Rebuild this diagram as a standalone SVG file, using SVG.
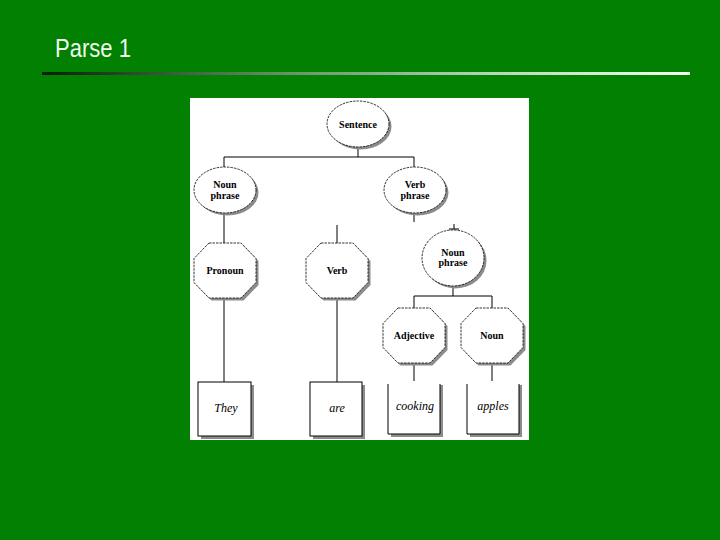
<svg xmlns="http://www.w3.org/2000/svg" width="720" height="540" viewBox="0 0 720 540">
<defs>
<linearGradient id="rule" x1="0" y1="0" x2="1" y2="0">
<stop offset="0" stop-color="#0a1e0a"/>
<stop offset="0.35" stop-color="#5f8c5f"/>
<stop offset="0.7" stop-color="#b8d8b8"/>
<stop offset="1" stop-color="#f2fff2"/>
</linearGradient>
<polygon id="oct" points="-16,-27.5 16,-27.5 31,-12 31,12 16,27.5 -16,27.5 -31,12 -31,-12"/>
</defs>
<style>
.node-shape{fill:#ffffff;stroke:#000000;stroke-width:0.8;stroke-dasharray:2.5 1}
.shadow{fill:#8c8c8c;stroke:none}
.lbl{font-family:"Liberation Serif","Times New Roman",serif;font-weight:bold;font-size:10px;fill:#000;text-anchor:middle}
.word{font-family:"Liberation Serif","Times New Roman",serif;font-style:italic;font-size:12px;fill:#000;text-anchor:middle}
.conn{stroke:#000;stroke-width:1;fill:none}
.box{fill:#fff;stroke:none}
.boxline{stroke:#000;stroke-width:1;fill:none}
</style>
<rect x="0" y="0" width="720" height="540" fill="#018001"/>
<text x="55" y="56.5" font-family="'Liberation Sans',Arial,sans-serif" font-size="26" fill="#eefcee" textLength="76" lengthAdjust="spacingAndGlyphs">Parse 1</text>
<rect x="42" y="72" width="648" height="3" fill="url(#rule)"/>
<rect x="190" y="98" width="339" height="342" fill="#ffffff"/>

<g id="connectors">
<path class="conn" d="M358,147V157M224,157H414M224,157V167M414,157V167"/>
<path class="conn" d="M224,213V243M224,298V382"/>
<path class="conn" d="M337,225V243M337,298V382"/>
<path class="conn" d="M414,213V222"/>
<path class="conn" d="M454,224V229M449,229H459"/>
<path class="conn" d="M453,287V296M414,296H492M414,296V308M492,296V308"/>
<path class="conn" d="M414,363V381M492,363V381"/>
</g>

<g id="sentence">
<ellipse class="shadow" cx="360.5" cy="126.5" rx="31" ry="23"/>
<ellipse class="node-shape" cx="358" cy="124" rx="31" ry="23"/>
<text class="lbl" x="358" y="128">Sentence</text>
</g>
<g id="noun-phrase-1">
<ellipse class="shadow" cx="227.5" cy="192.5" rx="31" ry="23"/>
<ellipse class="node-shape" cx="225" cy="190" rx="31" ry="23"/>
<text class="lbl" x="225" y="188">Noun</text>
<text class="lbl" x="225" y="199">phrase</text>
</g>
<g id="verb-phrase">
<ellipse class="shadow" cx="417.5" cy="192.5" rx="31" ry="23"/>
<ellipse class="node-shape" cx="415" cy="190" rx="31" ry="23"/>
<text class="lbl" x="415" y="188">Verb</text>
<text class="lbl" x="415" y="199">phrase</text>
</g>
<g id="noun-phrase-2">
<ellipse class="shadow" cx="455.5" cy="260.5" rx="31" ry="28"/>
<ellipse class="node-shape" cx="453" cy="258" rx="31" ry="28"/>
<text class="lbl" x="453" y="256">Noun</text>
<text class="lbl" x="453" y="266">phrase</text>
</g>
<g id="pronoun">
<use href="#oct" class="shadow" x="227.5" y="273"/>
<use href="#oct" class="node-shape" x="225" y="270.5"/>
<text class="lbl" x="225" y="274">Pronoun</text>
</g>
<g id="verb">
<use href="#oct" class="shadow" x="339.5" y="273"/>
<use href="#oct" class="node-shape" x="337" y="270.5"/>
<text class="lbl" x="337" y="274">Verb</text>
</g>
<g id="adjective">
<use href="#oct" class="shadow" x="416.5" y="338"/>
<use href="#oct" class="node-shape" x="414" y="335.5"/>
<text class="lbl" x="414" y="339">Adjective</text>
</g>
<g id="noun">
<use href="#oct" class="shadow" x="494.5" y="338"/>
<use href="#oct" class="node-shape" x="492" y="335.5"/>
<text class="lbl" x="492" y="339">Noun</text>
</g>

<g id="they">
<rect class="shadow" x="201" y="385" width="53" height="54"/>
<rect x="198" y="382" width="53" height="54" fill="#fff" stroke="#000" stroke-width="1"/>
<text class="word" x="226" y="412">They</text>
</g>
<g id="are">
<rect class="shadow" x="313" y="385" width="52" height="54"/>
<rect x="310" y="382" width="52" height="54" fill="#fff" stroke="#000" stroke-width="1"/>
<text class="word" x="337" y="412">are</text>
</g>
<g id="cooking">
<rect class="shadow" x="391" y="385" width="52" height="52"/>
<rect class="box" x="388" y="382" width="52" height="52"/>
<path class="boxline" d="M388,384V434H440V384"/>
<text class="word" x="415" y="410">cooking</text>
</g>
<g id="apples">
<rect class="shadow" x="470" y="385" width="52" height="52"/>
<rect class="box" x="467" y="382" width="52" height="52"/>
<path class="boxline" d="M467,384V434H519V384"/>
<text class="word" x="493" y="410">apples</text>
</g>
</svg>
